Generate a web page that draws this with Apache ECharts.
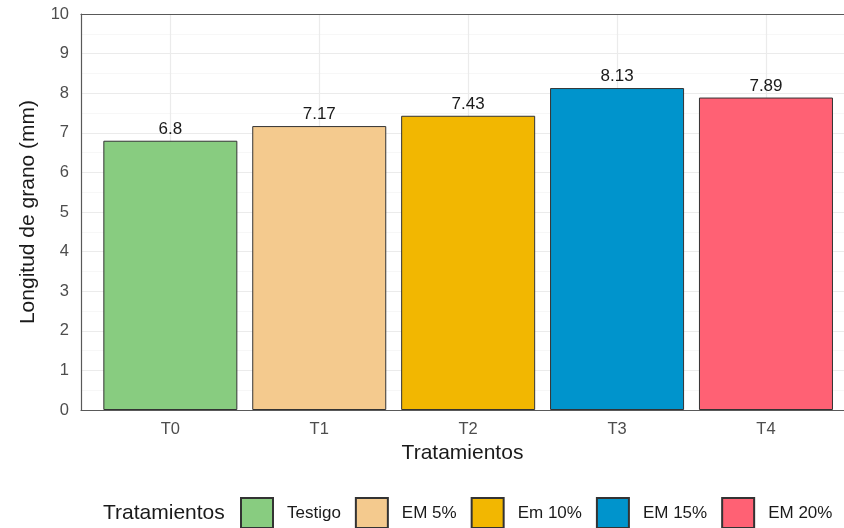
<!DOCTYPE html>
<html>
<head>
<meta charset="utf-8">
<script src="https://cdn.jsdelivr.net/npm/echarts@6/dist/echarts.min.js"></script>
<style>
  html, body { margin: 0; padding: 0; background: #ffffff; }
  #chart { width: 844px; height: 528px; }
</style>
</head>
<body>
<div id="chart"></div>
<script>
// Treatments, their legend names, mean grain length (mm) and fill colours
var categories = ['T0', 'T1', 'T2', 'T3', 'T4'];
var legendNames = ['Testigo', 'EM 5%', 'Em 10%', 'EM 15%', 'EM 20%'];
var grainLength = [6.8, 7.17, 7.43, 8.13, 7.89];
var fills = ['#88CC80', '#F4CA8E', '#F2B701', '#0094CC', '#FF6174'];
var yTicks = [0, 1, 2, 3, 4, 5, 6, 7, 8, 9, 10];

var FONT = '"Liberation Sans", Arial, Helvetica, sans-serif';
var positions = categories.map(function (c, i) { return i + 1; });
// x range: 0.6 of a category of padding on the left; the panel runs past the right edge
var X_MIN = 0.4;
var X_MAX = 5.524;

var series = categories.map(function (c, i) {
  return {
    name: legendNames[i],
    type: 'bar',
    xAxisIndex: 0,
    barWidth: '90%',
    barGap: '-100%',
    data: [[positions[i], grainLength[i]]],
    itemStyle: { color: fills[i], borderColor: '#333333', borderWidth: 1 },
    label: {
      show: true,
      position: 'top',
      distance: 3,
      formatter: function () { return String(grainLength[i]); },
      fontFamily: FONT,
      fontSize: 17,
      color: '#1a1a1a'
    },
    emphasis: { disabled: true }
  };
});

var frameLine = { show: true, lineStyle: { color: '#595959', width: 1.2 } };

var chart = echarts.init(document.getElementById('chart'), null, { renderer: 'canvas' });
chart.setOption({
  animation: false,
  backgroundColor: '#ffffff',
  title: {
    text: 'Tratamientos',
    left: 103,
    top: 503,
    padding: 0,
    textStyle: { fontFamily: FONT, fontSize: 21, fontWeight: 'normal', color: '#1a1a1a' }
  },
  legend: {
    data: legendNames,
    left: 240,
    top: 497,
    padding: 0,
    itemWidth: 32,
    itemHeight: 30,
    itemGap: 14,
    icon: 'rect',
    selectedMode: false,
    textStyle: { fontFamily: FONT, fontSize: 17, color: '#1a1a1a', padding: [0, 0, 0, 9] }
  },
  grid: {
    left: 81,
    top: 14,
    right: 0,
    bottom: 118,
    show: true,
    backgroundColor: '#ffffff',
    borderWidth: 0
  },
  xAxis: [{
    type: 'value',
    position: 'bottom',
    min: X_MIN,
    max: X_MAX,
    name: 'Tratamientos',
    nameLocation: 'middle',
    nameGap: 30,
    nameTextStyle: { fontFamily: FONT, fontSize: 21, color: '#1a1a1a' },
    axisLine: frameLine,
    axisTick: { show: false, customValues: positions },
    axisLabel: {
      customValues: positions,
      formatter: function (v) { return categories[Math.round(v) - 1] || ''; },
      margin: 11,
      fontFamily: FONT,
      fontSize: 16.5,
      color: '#4d4d4d'
    },
    splitLine: { show: true, customValues: positions, lineStyle: { color: '#ebebeb', width: 1.2 } }
  }, {
    // top edge of the panel frame
    type: 'value',
    position: 'top',
    min: X_MIN,
    max: X_MAX,
    axisLine: frameLine,
    axisTick: { show: false },
    axisLabel: { show: false },
    splitLine: { show: false }
  }],
  yAxis: {
    type: 'value',
    min: yTicks[0],
    max: yTicks[yTicks.length - 1],
    interval: 1,
    name: 'Longitud de grano (mm)',
    nameLocation: 'middle',
    nameGap: 42,
    nameTextStyle: { fontFamily: FONT, fontSize: 21, color: '#1a1a1a' },
    axisLine: frameLine,
    axisTick: { show: false },
    axisLabel: { margin: 12, fontFamily: FONT, fontSize: 16.5, color: '#4d4d4d' },
    splitLine: { show: true, lineStyle: { color: '#ebebeb', width: 1.2 } },
    minorTick: { show: false, splitNumber: 2 },
    minorSplitLine: { show: true, lineStyle: { color: '#f3f3f3', width: 0.7 } }
  },
  series: series
});
</script>
</body>
</html>
